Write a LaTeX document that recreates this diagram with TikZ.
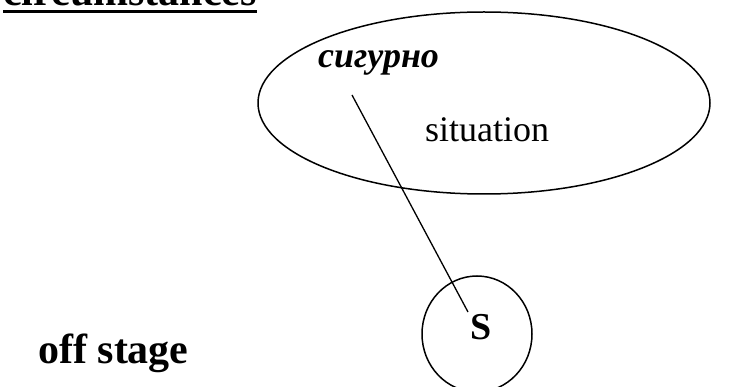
\documentclass[tikz,border=0pt]{standalone}
\usepackage{fontspec}
\setmainfont{Liberation Serif}
\usetikzlibrary{shapes.geometric}
\begin{document}
\begin{tikzpicture}[x=1pt,y=-1pt,
  shape line/.style={line width=1.5pt},
  lbl/.style={inner sep=0pt}]
\useasboundingbox (0,0) rectangle (734,387);
\draw[shape line] (484,103) ellipse [x radius=226, y radius=91];
\node[coordinate] (bigell) at (484,103) {};
\draw[shape line] (477,334) ellipse [x radius=55, y radius=58];
\node[coordinate] (smallell) at (477,334) {};
\node[lbl,anchor=base west,font=\fontsize{42}{48}\selectfont\bfseries] (circ) at (3,6) {circumstances};
\draw[line width=3pt] (circ.base west)++(0,6) -- (circ.base east|-0,12);
\node[lbl,anchor=base west,font=\fontsize{36}{42}\selectfont\bfseries\itshape] (sig) at (318,68) {сигурно};
\node[lbl,anchor=base west,font=\fontsize{36}{42}\selectfont] (sit) at (425,142) {situation};
\node[lbl,anchor=base,font=\fontsize{38}{44}\selectfont\bfseries] (S) at (481,340) {S};
\node[lbl,anchor=base west,font=\fontsize{42}{48}\selectfont\bfseries] (off) at (38,364) {off stage};
\coordinate (lineA) at (352,95);
\coordinate (lineB) at (468,312);
\draw[line width=1.3pt] (lineA) -- (lineB);
\end{tikzpicture}
\end{document}
